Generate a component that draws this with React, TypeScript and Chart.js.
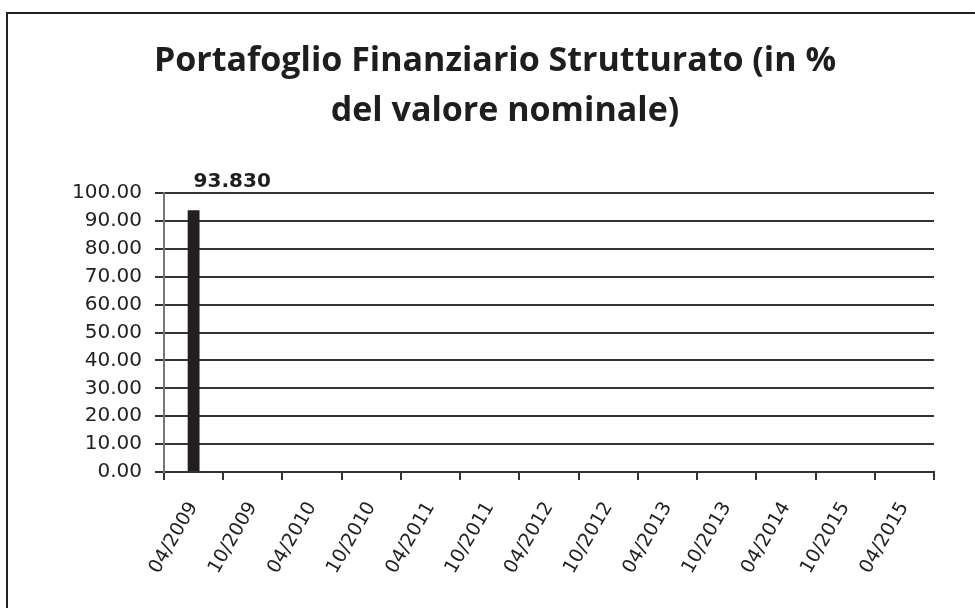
import React, { useEffect, useRef } from "react";
import { Chart, registerables } from "chart.js";

Chart.register(...registerables);

const titleLines = ["Portafoglio Finanziario Strutturato (in %", "del valore nominale)"];
const categories = [
  "04/2009", "10/2009", "04/2010", "10/2010", "04/2011", "10/2011", "04/2012",
  "10/2012", "04/2013", "10/2013", "04/2014", "10/2015", "04/2015",
];
const values: (number | null)[] = [93.83, null, null, null, null, null, null, null, null, null, null, null, null];
const yMin = 0;
const yMax = 100;
const yStep = 10;

const titlePlugin = {
  id: "customTitle",
  afterDraw(chart: any) {
    const ctx = chart.ctx;
    ctx.save();
    ctx.fillStyle = "#1e1e1e";
    ctx.font = "bold 34px 'Open Sans'";
    ctx.textAlign = "center";
    ctx.textBaseline = "alphabetic";
    ctx.fillText(titleLines[0], 495, 71);
    ctx.fillText(titleLines[1], 505, 121);
    ctx.restore();
  },
};

const valueLabelPlugin = {
  id: "valueLabels",
  afterDatasetsDraw(chart: any) {
    const ctx = chart.ctx;
    const meta = chart.getDatasetMeta(0);
    ctx.save();
    ctx.fillStyle = "#1e1e1e";
    ctx.font = "bold 20px 'DejaVu Sans'";
    ctx.textAlign = "left";
    ctx.textBaseline = "alphabetic";
    meta.data.forEach((bar: any, i: number) => {
      const v = values[i];
      if (v === null || v === undefined) return;
      ctx.fillText(v.toFixed(3), bar.x, bar.y - 23);
    });
    ctx.restore();
  },
};

export default function App() {
  const ref = useRef<HTMLCanvasElement>(null);
  useEffect(() => {
    if (!ref.current) return;
    const chart = new Chart(ref.current, {
      type: "bar",
      data: {
        labels: categories,
        datasets: [
          {
            data: values,
            backgroundColor: "#231f20",
            borderWidth: 0,
            barPercentage: 0.2,
            categoryPercentage: 1,
          },
        ],
      },
      options: {
        animation: false,
        responsive: false,
        maintainAspectRatio: false,
        layout: { padding: { top: 193, right: 41, bottom: 0, left: 0 } },
        plugins: {
          legend: { display: false },
          title: { display: false },
          tooltip: { enabled: false },
        },
        scales: {
          x: {
            grid: {
              display: true,
              drawOnChartArea: false,
              drawTicks: true,
              tickLength: 8,
              color: "#333",
              lineWidth: 2,
              offset: true,
            },
            border: { display: true, color: "#333", width: 2 },
            ticks: {
              color: "#222",
              font: { family: "'DejaVu Sans'", size: 19 },
              minRotation: 60,
              maxRotation: 60,
              padding: 18,
              autoSkip: false,
            },
            afterFit(scale: any) {
              scale.height = 136;
            },
          },
          y: {
            min: yMin,
            max: yMax,
            grid: {
              color: "#333",
              lineWidth: 2,
              tickLength: 9,
              drawTicks: true,
            },
            border: { display: true, color: "#777", width: 2 },
            ticks: {
              stepSize: yStep,
              color: "#222",
              font: { family: "'DejaVu Sans'", size: 20 },
              padding: 13,
              callback: (v: any) => Number(v).toFixed(2),
            },
            afterFit(scale: any) {
              scale.width = 164;
            },
          },
        },
      },
      plugins: [titlePlugin, valueLabelPlugin],
    });
    return () => chart.destroy();
  }, []);

  return (
    <div style={{ position: "fixed", left: 0, top: 0, width: 975, height: 608, overflow: "hidden", background: "#fff" }}>
      <div
        style={{
          position: "absolute",
          left: 6,
          top: 12,
          width: 1100,
          height: 800,
          border: "2px solid #222",
        }}
      />
      <canvas ref={ref} width={975} height={608} style={{ position: "absolute", left: 0, top: 0, width: 975, height: 608 }} />
    </div>
  );
}
